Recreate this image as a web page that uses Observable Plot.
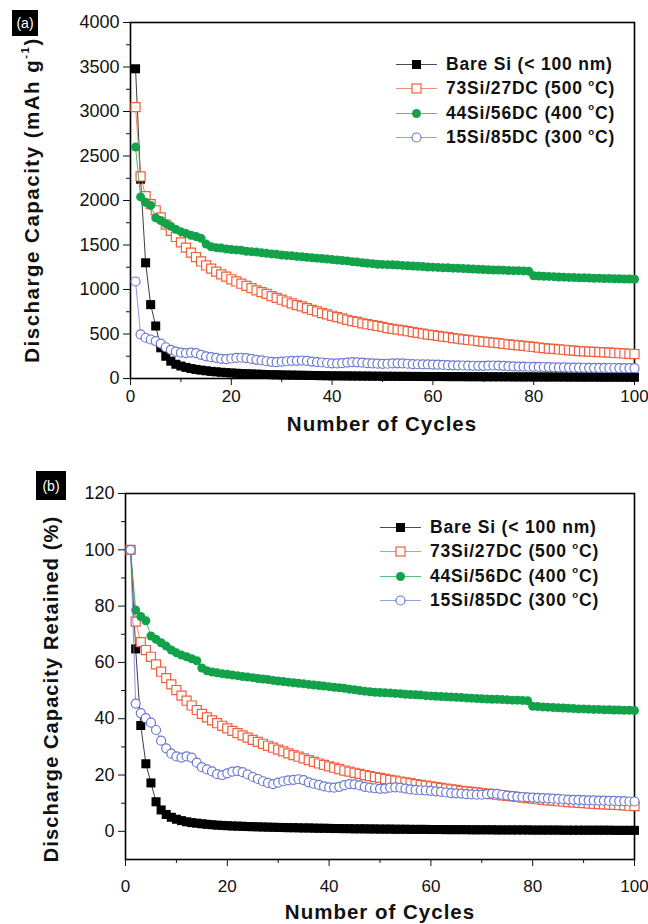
<!DOCTYPE html>
<html><head><meta charset="utf-8">
<script src="https://cdn.jsdelivr.net/npm/d3@7"></script>
<script src="https://cdn.jsdelivr.net/npm/@observablehq/plot@0.6"></script>
<style>
body{margin:0;background:#fff;}
#wrap{position:relative;width:648px;height:924px;font-family:"Liberation Sans",Arial,sans-serif;color:#111;overflow:hidden;}
.ov{position:absolute;z-index:2;}
.tag{background:#000;color:#fff;font-size:14px;display:flex;align-items:center;justify-content:center;}
.lab{font-weight:bold;font-size:20.5px;letter-spacing:1px;white-space:nowrap;transform:translate(-50%,-50%);}
.ylab{font-weight:bold;font-size:20px;letter-spacing:1.1px;white-space:nowrap;transform:translate(-50%,-50%) rotate(-90deg);}
.ylab.a{font-size:20.5px;letter-spacing:1.5px;}
.legend .row{display:flex;align-items:center;height:24.5px;font-weight:bold;font-size:17.5px;letter-spacing:0.8px;white-space:nowrap;}
.legend svg{margin-right:9px;flex:none;}
sup{font-size:0.55em;position:relative;top:-0.2em;vertical-align:super;line-height:0;}
</style>
</head><body>
<div id="wrap"></div>
<script>
// ---------------- data ----------------
const cycles = d3.range(1, 101);
const seriesNames = ["Bare Si (< 100 nm)", "73Si/27DC (500 °C)", "44Si/56DC (400 °C)", "15Si/85DC (300 °C)"];
const seriesColors = ["#000000", "#f0603c", "#12a24a", "#6a78d0"];

// panel (a): discharge capacity, mAh g-1
const bareSiCap = [3480,2240,1300,830,590,345,250,195,160,140,125,112,102,94,87,80,75,70,66,62,59,56,53,51,49,47,45,43,42,40,39,38,37,36,35,34,33,32,31,30,30,29,29,28,28,27,27,26,26,25,25,25,24,24,24,23,23,23,22,22,22,22,21,21,21,21,20,20,20,20,19,19,19,19,19,18,18,18,18,18,17,17,17,17,17,17,16,16,16,16,16,16,15,15,15,15,15,15,14,14];
const si73Cap = [3050,2270,2050,1960,1890,1810,1730,1660,1590,1530,1470,1415,1365,1315,1270,1235,1200,1170,1145,1115,1090,1065,1040,1015,990,970,950,925,905,885,865,845,825,810,790,770,755,735,720,705,690,675,660,645,635,620,610,600,590,580,567,558,549,540,531,522,512,503,494,488,479,470,464,454,448,439,433,427,421,415,409,403,397,390,384,378,372,366,360,354,348,342,336,332,326,323,317,314,308,305,302,299,296,293,290,287,284,281,278,275];
const si44Cap = [2600,2040,1980,1945,1805,1775,1740,1710,1675,1650,1630,1610,1595,1575,1510,1480,1470,1465,1455,1450,1445,1440,1430,1425,1420,1412,1406,1400,1395,1388,1383,1378,1372,1368,1362,1357,1352,1347,1342,1336,1331,1326,1321,1313,1308,1300,1295,1290,1284,1282,1279,1277,1274,1271,1266,1264,1261,1258,1253,1251,1248,1245,1243,1240,1238,1235,1232,1230,1227,1225,1222,1219,1219,1217,1214,1212,1212,1209,1206,1154,1152,1149,1147,1144,1141,1139,1136,1134,1131,1131,1128,1126,1126,1123,1123,1121,1121,1118,1118,1115];
const si15Cap = [1090,495,458,438,421,392,351,322,301,290,286,290,286,266,249,240,232,221,218,225,231,233,229,220,210,203,194,187,183,189,194,197,199,202,198,190,184,180,174,170,169,172,179,183,182,178,172,169,167,165,166,169,170,169,166,162,160,159,158,157,155,153,150,148,147,146,144,143,142,142,144,146,145,142,138,136,134,133,132,131,130,129,128,126,125,124,123,122,122,121,120,120,119,119,118,118,117,117,116,116];

// panel (b): discharge capacity retained, %
const bareSiRet = [100,64.8,37.6,24,17.2,10.5,7.6,6.0,5.0,4.3,3.8,3.4,3.1,2.9,2.7,2.5,2.35,2.2,2.1,2.0,1.9,1.85,1.8,1.7,1.65,1.6,1.55,1.5,1.45,1.4,1.35,1.3,1.3,1.25,1.2,1.2,1.15,1.1,1.1,1.05,1.0,1.0,0.95,0.95,0.9,0.9,0.9,0.85,0.85,0.8,0.8,0.8,0.75,0.75,0.75,0.7,0.7,0.7,0.7,0.65,0.65,0.65,0.6,0.6,0.6,0.6,0.6,0.55,0.55,0.55,0.55,0.55,0.5,0.5,0.5,0.5,0.5,0.5,0.5,0.45,0.45,0.45,0.45,0.45,0.45,0.4,0.4,0.4,0.4,0.4,0.4,0.4,0.4,0.4,0.4,0.35,0.35,0.35,0.35,0.35];
const si73Ret = [100,74.5,67.2,64.4,62.0,59.3,56.7,54.4,52.2,50.2,48.2,46.4,44.7,43.1,41.7,40.5,39.4,38.4,37.5,36.6,35.7,34.9,34.1,33.3,32.5,31.8,31.1,30.4,29.7,29.0,28.4,27.7,27.1,26.5,25.9,25.3,24.7,24.1,23.6,23.1,22.6,22.1,21.6,21.2,20.8,20.4,20.0,19.6,19.3,19.0,18.6,18.3,18.0,17.7,17.4,17.1,16.8,16.5,16.2,16.0,15.7,15.4,15.2,14.9,14.7,14.4,14.2,14.0,13.8,13.6,13.4,13.2,13.0,12.8,12.6,12.4,12.2,12.0,11.8,11.6,11.4,11.2,11.0,10.9,10.7,10.6,10.4,10.3,10.1,10.0,9.9,9.8,9.7,9.6,9.5,9.4,9.3,9.2,9.1,9.0];
const si44Ret = [100,78.6,76.3,74.8,69.4,68.2,67.0,65.8,64.4,63.4,62.6,62.0,61.3,60.6,58.0,57.0,56.6,56.3,56.0,55.8,55.5,55.3,55.0,54.8,54.6,54.3,54.1,53.9,53.6,53.4,53.2,53.0,52.8,52.6,52.4,52.2,52.0,51.8,51.6,51.4,51.2,51.0,50.8,50.5,50.3,50.0,49.8,49.6,49.4,49.3,49.2,49.1,49.0,48.9,48.7,48.6,48.5,48.4,48.2,48.1,48.0,47.9,47.8,47.7,47.6,47.5,47.4,47.3,47.2,47.1,47.0,46.9,46.9,46.8,46.7,46.6,46.6,46.5,46.4,44.4,44.3,44.2,44.1,44.0,43.9,43.8,43.7,43.6,43.5,43.5,43.4,43.3,43.3,43.2,43.2,43.1,43.1,43.0,43.0,42.9];
const si15Ret = [100,45.4,42.0,40.2,38.6,36.0,32.2,29.5,27.6,26.6,26.2,26.6,26.2,24.4,22.8,22.0,21.3,20.3,20.0,20.6,21.2,21.4,21.0,20.2,19.3,18.6,17.8,17.2,16.8,17.3,17.8,18.1,18.3,18.5,18.2,17.4,16.9,16.5,16.0,15.6,15.5,15.8,16.4,16.8,16.7,16.3,15.8,15.5,15.3,15.1,15.2,15.5,15.6,15.5,15.2,14.9,14.7,14.6,14.5,14.4,14.2,14.0,13.8,13.6,13.5,13.4,13.2,13.1,13.0,13.0,13.2,13.4,13.3,13.0,12.7,12.5,12.3,12.2,12.1,12.0,11.9,11.8,11.7,11.6,11.5,11.4,11.3,11.2,11.2,11.1,11.0,11.0,10.9,10.9,10.8,10.8,10.7,10.7,10.6,10.6];

const capTicks = [0,500,1000,1500,2000,2500,3000,3500,4000];
const retTicks = [0,20,40,60,80,100,120];
const cycleTicks = [0,20,40,60,80,100];

// ---------------- helpers ----------------
const symbols = ["square","square","circle","circle"];
const filled = [true,false,true,false];
function rows(arr){ return arr.map((v,i)=>({cycle: cycles[i], value: v})); }
function seriesMarks(arr, k){
  const data = rows(arr);
  const sq = symbols[k] === "square";
  return [
    Plot.line(data, {x:"cycle", y:"value", stroke: seriesColors[k], strokeWidth: 0.9, strokeOpacity: 0.85}),
    Plot.dot(data, {x:"cycle", y:"value", symbol: symbols[k], r: sq ? 5.1 : 4.5,
      fill: filled[k] ? seriesColors[k] : "white", stroke: seriesColors[k], strokeWidth: filled[k] ? 0 : 1.2})
  ];
}
function minor(ticks){ const out=[]; for(let i=0;i<ticks.length-1;i++) out.push((ticks[i]+ticks[i+1])/2); return out; }
function axes(yTicks, xPad){
  return [
    Plot.axisY({ticks: yTicks, tickSize: 7, tickPadding: 4, fontSize: 18, label: null, tickFormat: d=>String(d)}),
    Plot.axisY({ticks: minor(yTicks), tickSize: 4, label: null, tickFormat: ()=>""}),
    Plot.axisX({ticks: cycleTicks, tickSize: 7, tickPadding: xPad, fontSize: 17, label: null, tickFormat: d=>String(d)}),
    Plot.axisX({ticks: minor(cycleTicks), tickSize: 4, label: null, tickFormat: ()=>""}),
    Plot.frame({stroke: "black", strokeWidth: 1.6})
  ];
}
const style = {fontFamily: "'Liberation Sans', Arial, sans-serif", color: "#111", background: "white", overflow: "visible"};

const chartA = Plot.plot({
  width: 648, height: 440,
  marginLeft: 130, marginRight: 14, marginTop: 22, marginBottom: 62,
  x: {domain: [0,100]}, y: {domain: [0,4000]},
  style,
  marks: [
    ...axes(capTicks, 4),
    ...seriesMarks(bareSiCap,0), ...seriesMarks(si73Cap,1), ...seriesMarks(si44Cap,2), ...seriesMarks(si15Cap,3)
  ]
});
const chartB = Plot.plot({
  width: 648, height: 484,
  marginLeft: 125, marginRight: 14, marginTop: 53, marginBottom: 65,
  x: {domain: [0,100]}, y: {domain: [-10,120]},
  style,
  marks: [
    ...axes(retTicks, 13),
    ...seriesMarks(bareSiRet,0), ...seriesMarks(si73Ret,1), ...seriesMarks(si44Ret,2), ...seriesMarks(si15Ret,3)
  ]
});
const wrap = document.getElementById("wrap");
for (const [c, top] of [[chartA,0],[chartB,440]]) {
  c.style.position = "absolute"; c.style.left = "0px"; c.style.top = top + "px";
  wrap.appendChild(c);
}

function ov(html, cls, css){
  const d = document.createElement("div");
  d.className = "ov " + cls; d.innerHTML = html; d.style.cssText = css; wrap.appendChild(d); return d;
}
ov("(a)", "tag", "left:12px;top:10px;width:26px;height:26px;");
ov("(b)", "tag", "left:36px;top:471px;width:30px;height:29px;");
ov("Number of Cycles", "lab", "left:382px;top:424px;");
ov("Number of Cycles", "lab", "left:380px;top:912px;");
ov("Discharge Capacity (mAh g<sup>-1</sup>)", "ylab a", "left:32px;top:200px;");
ov("Discharge Capacity Retained (%)", "ylab", "left:51px;top:689px;");

function legendHTML(){
  const labels = seriesNames.map(n => n.replace(" °C", " <sup>o</sup>C"));
  return labels.map((t,k) => {
    const c = seriesColors[k];
    let m;
    if (symbols[k] === "square") m = `<rect x="16" y="3" width="9" height="9" fill="${filled[k]?c:"white"}" stroke="${c}" stroke-width="${filled[k]?0:1.2}"/>`;
    else m = `<circle cx="20.5" cy="7.5" r="4.5" fill="${filled[k]?c:"white"}" stroke="${c}" stroke-width="${filled[k]?0:1.2}"/>`;
    return `<div class="row"><svg width="41" height="15"><line x1="0" x2="41" y1="7.5" y2="7.5" stroke="${c}" stroke-width="1" stroke-opacity="0.7"/>${m}</svg><span>${t}</span></div>`;
  }).join("");
}
ov(legendHTML(), "legend", "left:396px;top:52px;");
ov(legendHTML(), "legend", "left:380px;top:515px;");
</script>
</body></html>
